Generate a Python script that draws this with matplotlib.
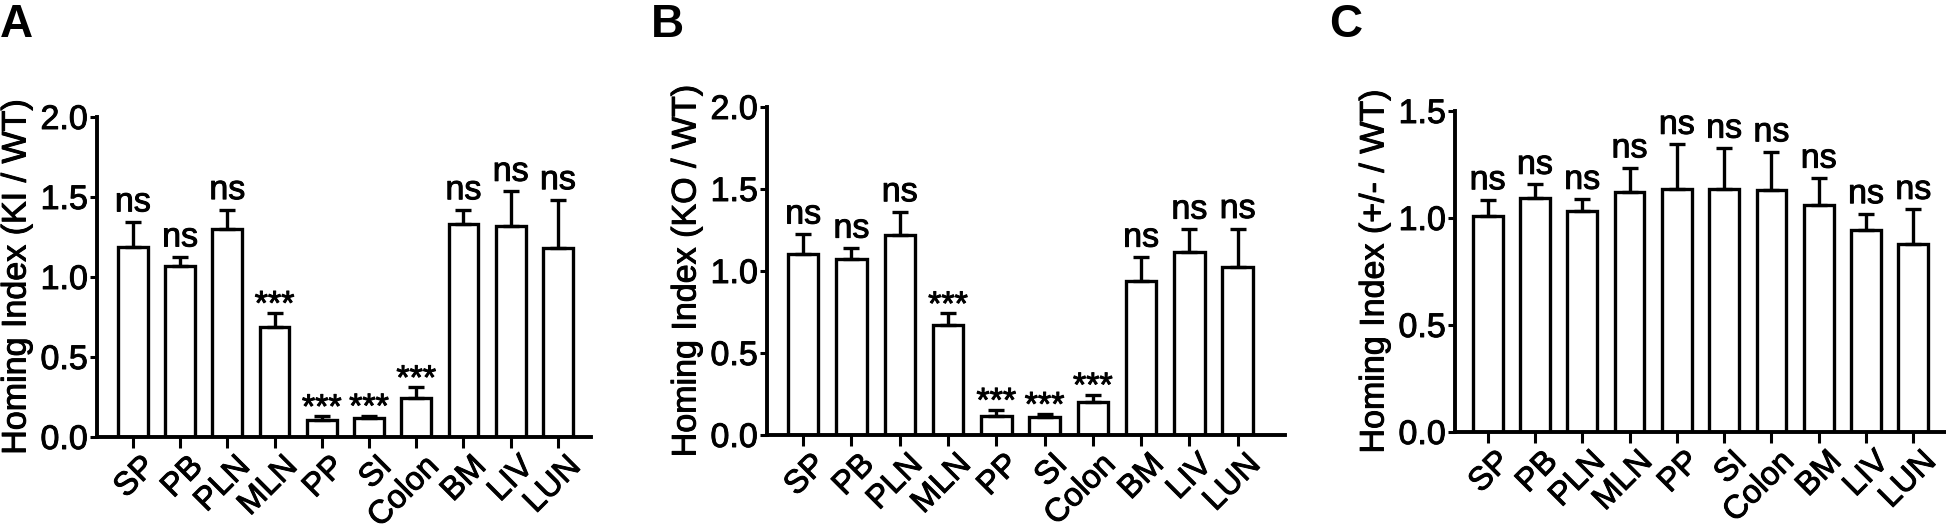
import matplotlib
matplotlib.use("Agg")
import matplotlib.pyplot as plt
import matplotlib.patheffects as pe
from matplotlib.transforms import ScaledTranslation
import numpy as np

plt.rcParams['font.family'] = ['Liberation Sans', 'DejaVu Sans']

categories = ["SP", "PB", "PLN", "MLN", "PP", "SI", "Colon", "BM", "LIV", "LUN"]

# Panel A: KI / WT
a_mean = [1.185, 1.067, 1.300, 0.688, 0.108, 0.119, 0.244, 1.331, 1.317, 1.181]
a_sem = [0.159, 0.058, 0.121, 0.087, 0.021, 0.014, 0.066, 0.089, 0.218, 0.302]
a_sig = ["ns", "ns", "ns", "***", "***", "***", "***", "ns", "ns", "ns"]

# Panel B: KO / WT
b_mean = [1.105, 1.076, 1.219, 0.669, 0.118, 0.108, 0.201, 0.938, 1.117, 1.027]
b_sem = [0.120, 0.063, 0.142, 0.072, 0.035, 0.020, 0.045, 0.146, 0.138, 0.232]
b_sig = ["ns", "ns", "ns", "***", "***", "***", "***", "ns", "ns", "ns"]

# Panel C: +/- / WT
c_mean = [1.008, 1.095, 1.031, 1.121, 1.137, 1.135, 1.133, 1.063, 0.942, 0.879]
c_sem = [0.077, 0.062, 0.056, 0.113, 0.207, 0.191, 0.176, 0.123, 0.078, 0.161]
c_sig = ["ns"] * 10

W, H = 1946, 531
fig = plt.figure(figsize=(W / 100, H / 100), dpi=100)

FS = 24.5
XFS = 23.5
LW = 2.4
THICK = [pe.withStroke(linewidth=0.7, foreground="black")]

panels = [
    dict(letter="A", mean=a_mean, sem=a_sem, sig=a_sig, ylabel="Homing Index (KI / WT)",
         box=(97, 591, 437, 117), ylim=(0, 2.0), yticks=[0, 0.5, 1.0, 1.5, 2.0],
         xlim=(-0.76, 9.70), letter_x=0),
    dict(letter="B", mean=b_mean, sem=b_sem, sig=b_sig, ylabel="Homing Index (KO / WT)",
         box=(767, 1285, 435, 107), ylim=(0, 2.0), yticks=[0, 0.5, 1.0, 1.5, 2.0],
         xlim=(-0.75, 9.98), letter_x=651),
    dict(letter="C", mean=c_mean, sem=c_sem, sig=c_sig, ylabel="Homing Index (+/- / WT)",
         box=(1455, 1946, 432, 111), ylim=(0, 1.5), yticks=[0, 0.5, 1.0, 1.5],
         xlim=(-0.69, 9.69), letter_x=1329),
]

for p in panels:
    x0, x1, yb, yt = p["box"]
    ax = fig.add_axes([x0 / W, 1 - yb / H, (x1 - x0) / W, (yb - yt) / H])
    x = np.arange(len(categories))
    ax.bar(x, p["mean"], width=0.63, color="white", edgecolor="black", linewidth=LW, zorder=2)
    ax.errorbar(x, p["mean"], yerr=[np.zeros(len(x)), p["sem"]], fmt="none", ecolor="black",
                elinewidth=LW, capsize=5.5, capthick=LW, zorder=3)
    for xi, m, s, sig in zip(x, p["mean"], p["sem"], p["sig"]):
        off = 7.6 if sig == "ns" else -1.0
        t = ax.annotate(sig, (xi, m + s), xytext=(0, off), textcoords="offset points",
                        ha="center", va="baseline", fontsize=FS)
        t.set_path_effects(THICK)
    ax.set_xlim(*p["xlim"])
    ax.set_ylim(*p["ylim"])
    ax.set_yticks(p["yticks"])
    ax.set_yticklabels([f"{v:.1f}" for v in p["yticks"]])
    ax.set_xticks(x)
    ax.set_xticklabels(categories, rotation=45, ha="right", va="top", rotation_mode="anchor")
    for s in ["top", "right"]:
        ax.spines[s].set_visible(False)
    for s in ["left", "bottom"]:
        ax.spines[s].set_linewidth(2.8)
        ax.spines[s].set_zorder(4)
    ax.tick_params(axis="y", direction="out", length=5, width=2.2, labelsize=FS, pad=1.5)
    ax.tick_params(axis="x", direction="out", length=8, width=2.2, labelsize=XFS, pad=2)
    shift = ScaledTranslation(5 / 72, 0, fig.dpi_scale_trans)
    for lab in ax.get_xticklabels():
        lab.set_transform(lab.get_transform() + shift)
        lab.set_path_effects(THICK)
    for lab in ax.get_yticklabels():
        lab.set_path_effects(THICK)
    cy = 1 - ((yb + yt) / 2) / H
    t = fig.text((x0 - 80) / W, cy, p["ylabel"], rotation=90, ha="center", va="center", fontsize=FS)
    t.set_path_effects(THICK)
    fig.text(p["letter_x"] / W, 1 - 3 / H, p["letter"], ha="left", va="top",
             fontsize=33, fontweight="bold")

fig.savefig("out.png", dpi=100)
